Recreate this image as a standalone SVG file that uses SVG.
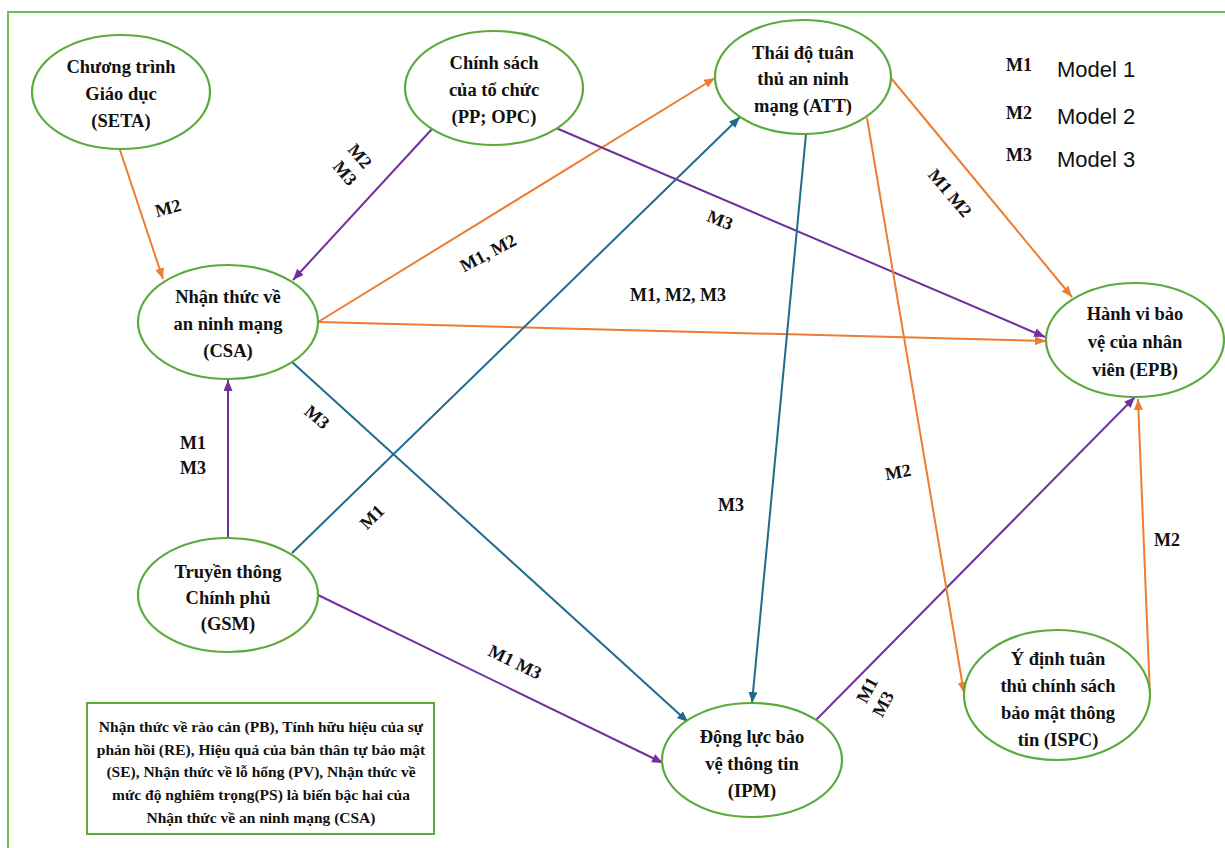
<svg xmlns="http://www.w3.org/2000/svg" width="1225" height="848" viewBox="0 0 1225 848">
<style>
.node{fill:#fff;stroke:#5BAA3C;stroke-width:2.2}
.nt{font-family:"Liberation Serif","Times New Roman",serif;font-weight:bold;font-size:18.5px;fill:#111;text-anchor:middle}
.lb{font-family:"Liberation Serif","Times New Roman",serif;font-weight:bold;font-size:18px;fill:#111;text-anchor:middle}
.bx{font-family:"Liberation Serif","Times New Roman",serif;font-weight:bold;font-size:15.5px;fill:#111;text-anchor:middle}
.leg{font-family:"Liberation Sans",Arial,sans-serif;font-size:22px;fill:#111}
.o{stroke:#ED7D31;stroke-width:2;fill:none;marker-end:url(#ao)}
.p{stroke:#7030A0;stroke-width:2;fill:none;marker-end:url(#ap)}
.t{stroke:#1F6B8C;stroke-width:2;fill:none;marker-end:url(#at)}
</style>
<defs>
<marker id="ao" markerUnits="userSpaceOnUse" markerWidth="12" markerHeight="10" refX="11" refY="4.5" orient="auto"><path d="M0,0 L11,4.5 L0,9 z" fill="#ED7D31"/></marker>
<marker id="ap" markerUnits="userSpaceOnUse" markerWidth="12" markerHeight="10" refX="11" refY="4.5" orient="auto"><path d="M0,0 L11,4.5 L0,9 z" fill="#7030A0"/></marker>
<marker id="at" markerUnits="userSpaceOnUse" markerWidth="12" markerHeight="10" refX="11" refY="4.5" orient="auto"><path d="M0,0 L11,4.5 L0,9 z" fill="#1F6B8C"/></marker>
</defs>
<rect x="0" y="0" width="1225" height="848" fill="#fff"/>
<rect x="8" y="12" width="1240" height="860" fill="none" stroke="#6DBF4B" stroke-width="2"/>

<g id="connectors">
<line class="o" x1="120" y1="150" x2="163" y2="279"/>
<line class="p" x1="432" y1="129" x2="293" y2="280"/>
<line class="o" x1="318" y1="322" x2="715" y2="78"/>
<line class="o" x1="318" y1="322" x2="1046" y2="341"/>
<line class="p" x1="556" y1="128" x2="1045" y2="337"/>
<line class="t" x1="292" y1="553" x2="740" y2="117"/>
<line class="t" x1="292" y1="362" x2="688" y2="722"/>
<line class="t" x1="806" y1="134" x2="752" y2="703"/>
<line class="p" x1="318" y1="595" x2="663" y2="763"/>
<line class="p" x1="228" y1="537" x2="228" y2="380"/>
<line class="p" x1="816" y1="720" x2="1135" y2="397"/>
<line class="o" x1="891" y1="78" x2="1072" y2="297"/>
<line class="o" x1="867" y1="118" x2="964" y2="693"/>
<line class="o" x1="1150" y1="696" x2="1138" y2="399"/>
<text class="lb" transform="translate(168,208) rotate(-15)" dy="6">M2</text>
<text class="lb" transform="translate(360,156) rotate(50)" dy="6">M2</text>
<text class="lb" transform="translate(345,173) rotate(50)" dy="6">M3</text>
<text class="lb" transform="translate(488,253) rotate(-28)" dy="6">M1, M2</text>
<text class="lb" x="678" y="301">M1, M2, M3</text>
<text class="lb" transform="translate(720,220) rotate(22)" dy="6">M3</text>
<text class="lb" transform="translate(372,517) rotate(-45)" dy="6">M1</text>
<text class="lb" transform="translate(317,417) rotate(40)" dy="6">M3</text>
<text class="lb" x="731" y="511">M3</text>
<text class="lb" transform="translate(515,662) rotate(26)" dy="6">M1 M3</text>
<text class="lb" x="193" y="449">M1</text>
<text class="lb" x="193" y="474">M3</text>
<text class="lb" transform="translate(867,690) rotate(-62)" dy="6">M1</text>
<text class="lb" transform="translate(883,704) rotate(-62)" dy="6">M3</text>
<text class="lb" transform="translate(950,193) rotate(50)" dy="6">M1 M2</text>
<text class="lb" transform="translate(898,472) rotate(-10)" dy="6">M2</text>
<text class="lb" x="1167" y="546">M2</text>
</g>

<g id="SETA"><ellipse class="node" cx="121" cy="92" rx="89" ry="57"/>
<text class="nt" x="121" y="73">Chương trình</text><text class="nt" x="121" y="100">Giáo dục</text><text class="nt" x="121" y="127">(SETA)</text></g>

<g id="PP"><ellipse class="node" cx="494" cy="88" rx="89" ry="57"/>
<text class="nt" x="494" y="69">Chính sách</text><text class="nt" x="494" y="96">của tổ chức</text><text class="nt" x="494" y="123">(PP; OPC)</text></g>

<g id="ATT"><ellipse class="node" cx="803" cy="77" rx="88" ry="57"/>
<text class="nt" x="803" y="59">Thái độ tuân</text><text class="nt" x="803" y="85">thủ an ninh</text><text class="nt" x="803" y="112">mạng (ATT)</text></g>

<g id="CSA"><ellipse class="node" cx="228" cy="322" rx="90" ry="57"/>
<text class="nt" x="228" y="303">Nhận thức về</text><text class="nt" x="228" y="330">an ninh mạng</text><text class="nt" x="228" y="357">(CSA)</text></g>

<g id="EPB"><ellipse class="node" cx="1135" cy="340" rx="89" ry="57"/>
<text class="nt" x="1135" y="320">Hành vi bảo</text><text class="nt" x="1135" y="348">vệ của nhân</text><text class="nt" x="1135" y="376">viên (EPB)</text></g>

<g id="GSM"><ellipse class="node" cx="228" cy="595" rx="90" ry="57"/>
<text class="nt" x="228" y="578">Truyền thông</text><text class="nt" x="228" y="604">Chính phủ</text><text class="nt" x="228" y="630">(GSM)</text></g>

<g id="IPM"><ellipse class="node" cx="752" cy="760" rx="90" ry="57"/>
<text class="nt" x="752" y="743">Động lực bảo</text><text class="nt" x="752" y="770">vệ thông tin</text><text class="nt" x="752" y="797">(IPM)</text></g>

<g id="ISPC"><ellipse class="node" cx="1057" cy="695" rx="93" ry="65"/>
<text class="nt" x="1058" y="665">Ý định tuân</text><text class="nt" x="1058" y="692">thủ chính sách</text><text class="nt" x="1058" y="719">bảo mật thông</text><text class="nt" x="1058" y="746">tin (ISPC)</text></g>

<g id="legend">
<text class="lb" x="1006" y="71" style="text-anchor:start">M1</text>
<text class="leg" x="1057" y="77">Model 1</text>
<text class="lb" x="1006" y="119" style="text-anchor:start">M2</text>
<text class="leg" x="1057" y="124">Model 2</text>
<text class="lb" x="1006" y="161" style="text-anchor:start">M3</text>
<text class="leg" x="1057" y="167">Model 3</text>
</g>

<g id="note"><rect x="87" y="703" width="347" height="131" fill="#fff" stroke="#5BAA3C" stroke-width="2"/>
<text class="bx" x="261" y="732">Nhận thức về rào cản (PB), Tính hữu hiệu của sự</text>
<text class="bx" x="261" y="755">phản hồi (RE), Hiệu quả của bản thân tự bảo mật</text>
<text class="bx" x="261" y="777">(SE), Nhận thức về lỗ hổng (PV), Nhận thức về</text>
<text class="bx" x="261" y="800">mức độ nghiêm trọng(PS) là biến bậc hai của</text>
<text class="bx" x="261" y="823">Nhận thức về an ninh mạng (CSA)</text>
</g>
</svg>
